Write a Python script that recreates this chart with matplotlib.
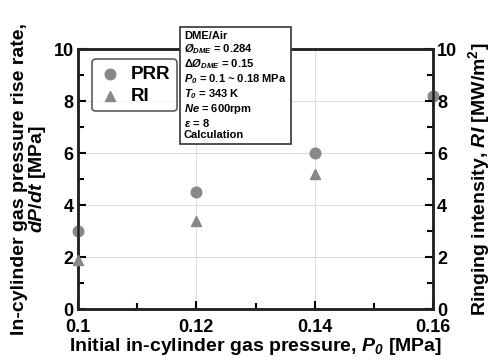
import matplotlib
matplotlib.use("Agg")
import matplotlib.pyplot as plt
from matplotlib.ticker import MultipleLocator

plt.rcParams['font.family'] = ['Liberation Sans', 'DejaVu Sans']
plt.rcParams['font.weight'] = 'bold'
plt.rcParams['mathtext.fontset'] = 'custom'
plt.rcParams['mathtext.rm'] = 'Liberation Sans:bold'
plt.rcParams['mathtext.it'] = 'Liberation Sans:italic:bold'
plt.rcParams['mathtext.sf'] = 'Liberation Sans:italic:bold'
plt.rcParams['mathtext.bf'] = 'Liberation Sans:bold'

pressure = [0.10, 0.12, 0.14, 0.16]
prr = [3.0, 4.5, 6.0, 8.2]
ri_x = [0.10, 0.12, 0.14]
ri = [1.9, 3.4, 5.2]
x_ticks = [0.10, 0.12, 0.14, 0.16]
x_tick_labels = ['0.1', '0.12', '0.14', '0.16']
y_ticks = [0, 2, 4, 6, 8, 10]

fig = plt.figure(figsize=(4.91, 3.62), dpi=100)
ax = fig.add_axes([78/491, 1-309/362, (433-78)/491, (309-49)/362])
ax2 = ax.twinx()

grey = '#888888'
ax.scatter(pressure, prr, s=58, color=grey, marker='o', zorder=5, clip_on=False, label='PRR')
ax2.scatter(ri_x, ri, s=52, color=grey, marker='^', zorder=5, clip_on=False, label='RI')

for a in (ax, ax2):
    a.set_ylim(0, 10)
    a.set_yticks(y_ticks)
    a.yaxis.set_minor_locator(MultipleLocator(1))
    a.tick_params(axis='both', which='both', direction='in', labelsize=13, width=1.5)
    a.tick_params(which='major', length=6)
    a.tick_params(which='minor', length=4)
    for s in a.spines.values():
        s.set_linewidth(1.8)
        s.set_color('#222222')
ax.set_xlim(0.1, 0.16)
ax.set_xticks(x_ticks)
ax.set_xticklabels(x_tick_labels)
ax.xaxis.set_minor_locator(MultipleLocator(0.01))
ax.tick_params(axis='x', pad=7)
ax.tick_params(axis='y', pad=3)
ax2.tick_params(axis='y', pad=3)
ax.grid(True, which='major', color='#dddddd', linewidth=0.8)
ax.set_axisbelow(True)
for lab in ax.get_xticklabels() + ax.get_yticklabels() + ax2.get_yticklabels():
    lab.set_fontweight('bold')

ax.set_xlabel(r'Initial in-cylinder gas pressure, $P_{\mathsf{0}}$ [MPa]', fontsize=14, fontweight='bold', labelpad=0)
ax.set_ylabel('In-cylinder gas pressure rise rate,\n' + r'$dP/dt$ [MPa]', fontsize=14, fontweight='bold', labelpad=4, linespacing=0.95)
ax2.set_ylabel(r'Ringing intensity, $RI$ [MW/m$^2$]', fontsize=14, fontweight='bold', labelpad=6)

h1, l1 = ax.get_legend_handles_labels()
h2, l2 = ax2.get_legend_handles_labels()
leg = ax2.legend(h1 + h2, l1 + l2, loc='upper left', bbox_to_anchor=(0.04, 0.96), fontsize=13.5,
                 frameon=True, fancybox=True, edgecolor='#333333', handletextpad=0.5,
                 handlelength=1.2, borderpad=0.35, labelspacing=0.25, borderaxespad=0)
leg.get_frame().set_linewidth(1.2)
for t in leg.get_texts():
    t.set_fontweight('bold')

info = ('DME/Air\n'
        r'$\mathit{\O}_{\mathit{DME}}$ = 0.284' '\n'
        r'$\mathit{\Delta\O}_{\mathit{DME}}$ = 0.15' '\n'
        r'$\mathit{P}_{\mathsf{0}}$ = 0.1 ~ 0.18 MPa' '\n'
        r'$\mathit{T}_{\mathsf{0}}$ = 343 K' '\n'
        r'$\mathit{Ne}$ = 600rpm' '\n'
        r'$\mathit{\varepsilon}$ = 8' '\n'
        'Calculation')
fig.text(184/491, 1-31/362, info, fontsize=8, fontweight='bold', va='top', ha='left',
         linespacing=1.12,
         bbox=dict(boxstyle='square,pad=0.35', facecolor='white', edgecolor='#333333', linewidth=1.2),
         zorder=10)

fig.savefig('out.png', dpi=100)
